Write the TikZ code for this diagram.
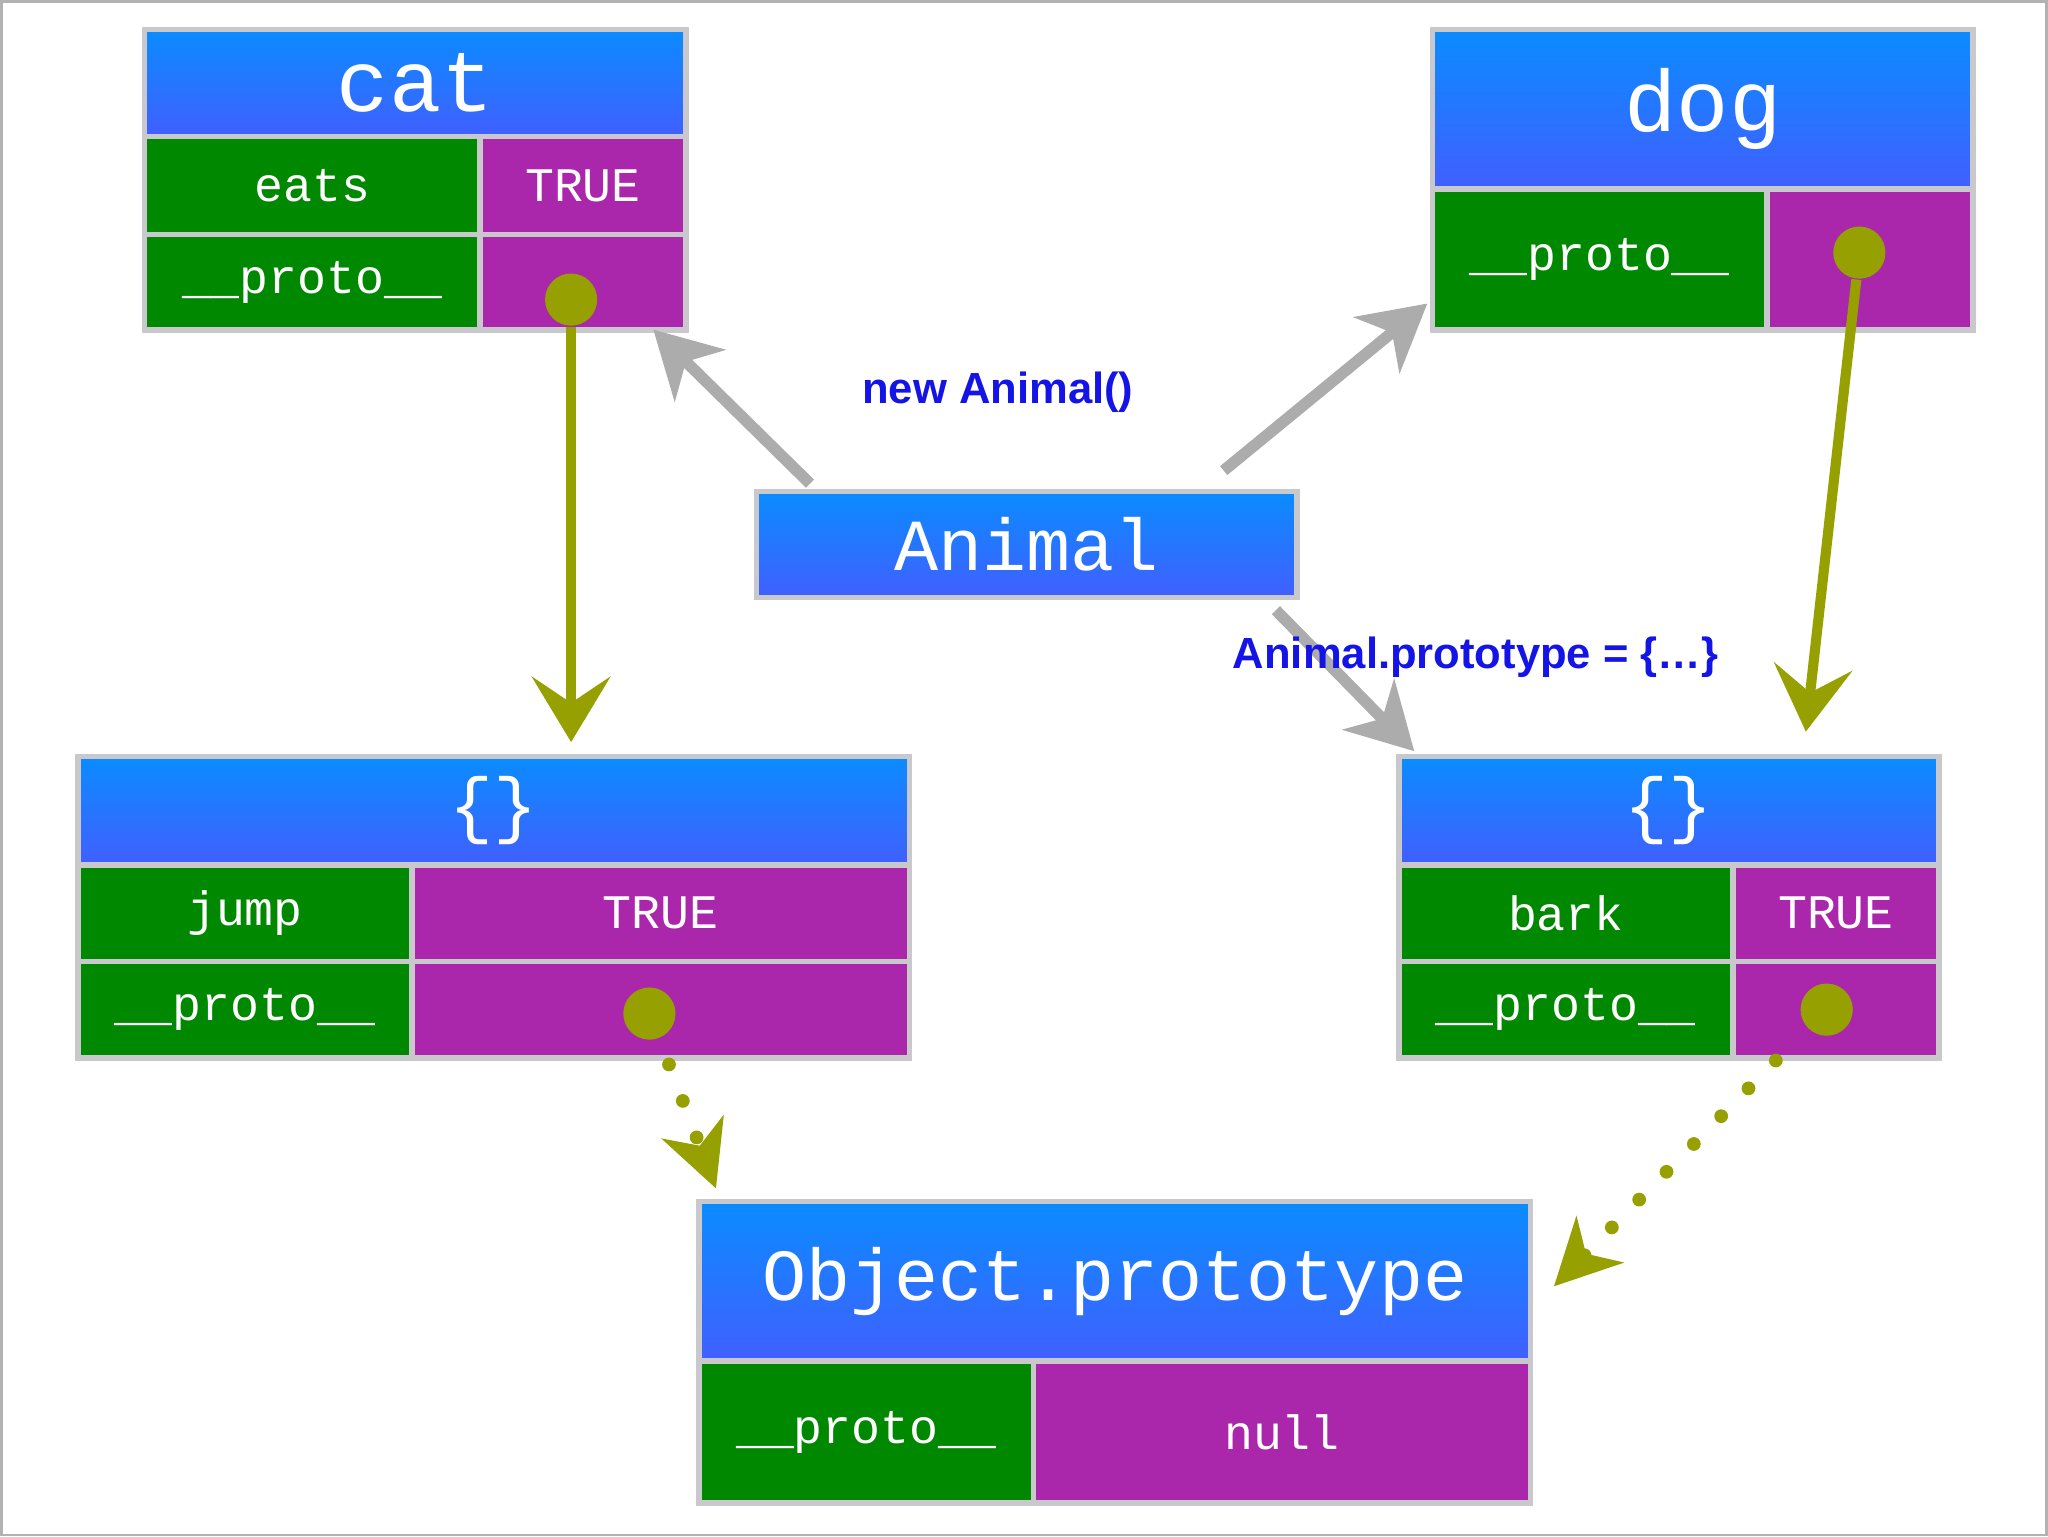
\documentclass[tikz,border=0pt]{standalone}
\usepackage{fontspec}
\setmainfont{Liberation Sans}
\newfontfamily\mono{Liberation Mono}
\usetikzlibrary{arrows.meta}
\definecolor{hdtop}{RGB}{10,140,255}
\definecolor{hdbot}{RGB}{65,95,255}
\definecolor{grn}{RGB}{0,136,0}
\definecolor{pur}{RGB}{170,38,170}
\definecolor{olv}{RGB}{150,160,0}
\definecolor{lbl}{RGB}{20,20,230}
\definecolor{edge}{RGB}{200,200,205}
\begin{document}
\begin{tikzpicture}[x=0.1mm,y=-0.1mm,
  cell/.style={draw=edge,line width=1.2pt,anchor=north west,inner sep=0pt,text=white,font=\mono\fontsize{10.5}{12}\selectfont},
  hd/.style={cell,top color=hdtop,bottom color=hdbot,font=\mono\fontsize{16}{18}\selectfont},
  g/.style={cell,fill=grn},
  p/.style={cell,fill=pur},
  dot/.style={circle,fill=olv,minimum size=4mm,inner sep=0pt},
  olvarrow/.style={draw=olv,line width=2.2pt,-{Stealth[length=5mm,width=6mm,inset=2mm]}},
  dotarrow/.style={draw=olv,line width=3pt,line cap=round,dash pattern=on 0pt off 8.5pt,-{Stealth[length=5mm,width=5mm,inset=1.5mm]}},
  grayarrow/.style={draw=gray!65,line width=2.5pt,-{Stealth[length=5mm,width=5.5mm,inset=1.5mm]}},
  label/.style={text=lbl,font=\bfseries\fontsize{9.5}{11}\selectfont}]
\fill[white] (0,0) rectangle (1568,1176);
\draw[gray!60,line width=0.6pt] (0.5,0.5) rectangle (1567.5,1175.5);
% cat
\node[hd,minimum width=41.5mm,minimum height=8.2mm,font=\mono\fontsize{19}{20}\selectfont] (cath) at (108,20) {cat};
\node[g,minimum width=25.7mm,minimum height=7.5mm] (cat1) at (108,102) {eats};
\node[p,minimum width=15.8mm,minimum height=7.5mm] (cat1v) at (365,102) {TRUE};
\node[g,minimum width=25.7mm,minimum height=7.3mm] (cat2) at (108,177) {\_\_proto\_\_};
\node[p,minimum width=15.8mm,minimum height=7.3mm] (cat2v) at (365,177) {};
% dog
\node[hd,minimum width=41.4mm,minimum height=12.2mm,font=\mono\fontsize{19}{20}\selectfont] (dogh) at (1095,20) {dog};
\node[g,minimum width=25.6mm,minimum height=10.8mm] (dog1) at (1095,142) {\_\_proto\_\_};
\node[p,minimum width=15.8mm,minimum height=10.8mm] (dog1v) at (1351,142) {};
% Animal
\node[hd,minimum width=41.4mm,minimum height=8.1mm] (animal) at (577,374) {Animal};
% left {}
\node[hd,minimum width=63.7mm,minimum height=8.3mm] (lh) at (57,577) {\{\}};
\node[g,minimum width=25.6mm,minimum height=7.4mm] (l1) at (57,660) {jump};
\node[p,minimum width=38.1mm,minimum height=7.4mm] (l1v) at (313,660) {TRUE};
\node[g,minimum width=25.6mm,minimum height=7.4mm] (l2) at (57,734) {\_\_proto\_\_};
\node[p,minimum width=38.1mm,minimum height=7.4mm] (l2v) at (313,734) {};
% right {}
\node[hd,minimum width=41.4mm,minimum height=8.3mm] (rh) at (1069,577) {\{\}};
\node[g,minimum width=25.6mm,minimum height=7.4mm] (r1) at (1069,660) {bark};
\node[p,minimum width=15.8mm,minimum height=7.4mm] (r1v) at (1325,660) {TRUE};
\node[g,minimum width=25.6mm,minimum height=7.4mm] (r2) at (1069,734) {\_\_proto\_\_};
\node[p,minimum width=15.8mm,minimum height=7.4mm] (r2v) at (1325,734) {};
% Object.prototype
\node[hd,minimum width=63.7mm,minimum height=12.2mm] (oh) at (533,918) {Object.prototype};
\node[g,minimum width=25.6mm,minimum height=10.9mm] (o1) at (533,1040) {\_\_proto\_\_};
\node[p,minimum width=38.1mm,minimum height=10.9mm] (o1v) at (789,1040) {null};
% dots
\node[dot] (catd) at (437,229) {};
\node[dot] (dogd) at (1424,193) {};
\node[dot] (ld) at (497,776) {};
\node[dot] (rd) at (1399,773) {};
% coordinates
\coordinate (catin) at (437,568);
\coordinate (dogin) at (1383,560);
\coordinate (a1) at (620,370);
\coordinate (a1e) at (500,252);
\coordinate (a2) at (937,360);
\coordinate (a2e) at (1093,232);
\coordinate (a3) at (977,467);
\coordinate (a3e) at (1083,575);
\coordinate (ls) at (512,815);
\coordinate (le) at (548,910);
\coordinate (rs) at (1360,812);
\coordinate (re) at (1190,985);
% connectors
\draw[olvarrow] (catd) -- (catin);
\draw[olvarrow] (dogd) -- (dogin);
\draw[grayarrow] (a1) -- (a1e);
\draw[grayarrow] (a2) -- (a2e);
\draw[grayarrow] (a3) -- (a3e);
\draw[dotarrow] (ls) -- (le);
\draw[dotarrow] (rs) -- (re);
% labels
\node[label] (l_new) at (764,300) {new Animal()};
\node[label] (l_proto) at (1130,503) {Animal.prototype = \{…\}};
\end{tikzpicture}
\end{document}
